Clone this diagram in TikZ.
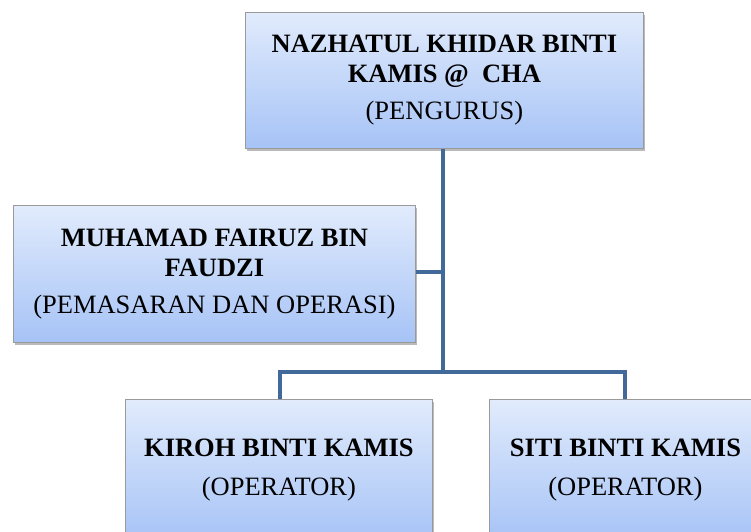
\documentclass[tikz,border=0pt]{standalone}
\usepackage{fontspec}
\setmainfont{Liberation Serif}
\usetikzlibrary{shadows}
\definecolor{linkblue}{HTML}{41699A}
\definecolor{boxtop}{HTML}{E1EBFC}
\definecolor{boxbot}{HTML}{A6C3F6}
\definecolor{boxedge}{HTML}{9A9A9A}
\tikzset{
  orgbox/.style={draw=boxedge, line width=0.8pt, top color=boxtop, bottom color=boxbot,
    drop shadow={shadow xshift=2pt, shadow yshift=-3pt, fill=black!45, opacity=0.6},
    align=center, inner sep=0pt, anchor=north west, font=\fontsize{26.5}{30}\selectfont},
  link/.style={draw=linkblue, line width=4pt}
}
\begin{document}
\begin{tikzpicture}[x=1pt,y=-1pt]
\useasboundingbox (0,0) rectangle (751,531);
\clip (0,0) rectangle (751,531);
\node[orgbox, minimum width=398pt, minimum height=136pt] (top) at (245,12)
  {\textbf{NAZHATUL KHIDAR BINTI}\\ \textbf{KAMIS @ \ CHA}\\[7pt] (PENGURUS)};
\node[orgbox, minimum width=402pt, minimum height=137pt] (mkt) at (13,205)
  {\textbf{MUHAMAD FAIRUZ BIN}\\ \textbf{FAUDZI}\\[7pt] (PEMASARAN DAN OPERASI)};
\node[orgbox, minimum width=307pt, minimum height=142pt] (kiroh) at (125,399)
  {\textbf{KIROH BINTI KAMIS}\\[9pt](OPERATOR)};
\node[orgbox, minimum width=272pt, minimum height=142pt] (siti) at (489,399)
  {\textbf{SITI BINTI KAMIS}\\[9pt](OPERATOR)};
\coordinate (j1) at (443,272);
\coordinate (j2) at (443,372);
\draw[link] (top.south -| j1) -- (j2);
\draw[link] (mkt.east |- j1) -- (j1);
\draw[link] (j2) -| (kiroh.north -| 280,0);
\draw[link] (j2) -| (siti.north -| 625,0);
\end{tikzpicture}
\end{document}
